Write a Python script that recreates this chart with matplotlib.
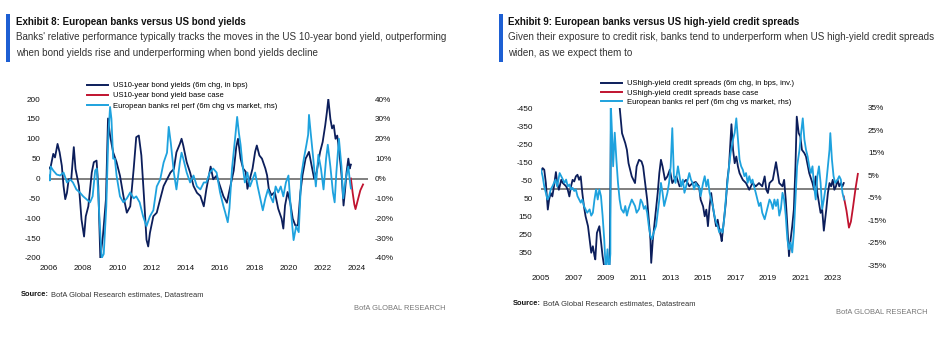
import matplotlib
matplotlib.use("Agg")
import matplotlib.pyplot as plt
from matplotlib.patches import Rectangle
from matplotlib.lines import Line2D
import matplotlib.font_manager as fm

# ------------------------------------------------------------------ #
# Exhibit 8 data (x in decimal years)
# ------------------------------------------------------------------ #
us10y_t = [2006.00, 2006.10, 2006.25, 2006.35, 2006.50, 2006.62, 2006.75, 2006.85, 2006.95, 2007.05,
           2007.15, 2007.30, 2007.45, 2007.55, 2007.75, 2007.90, 2008.05, 2008.15, 2008.30, 2008.50,
           2008.62, 2008.78, 2008.88, 2009.00, 2009.15, 2009.33, 2009.45, 2009.57, 2009.75, 2009.95,
           2010.15, 2010.35, 2010.55, 2010.75, 2010.95, 2011.10, 2011.25, 2011.40, 2011.55, 2011.70,
           2011.80, 2011.90, 2012.10, 2012.30, 2012.50, 2012.70, 2012.90, 2013.10, 2013.30, 2013.45,
           2013.65, 2013.75, 2013.85, 2014.05, 2014.25, 2014.45, 2014.65, 2014.85, 2015.05, 2015.20,
           2015.45, 2015.60, 2015.80, 2016.00, 2016.20, 2016.40, 2016.60, 2016.80, 2016.95, 2017.05,
           2017.20, 2017.35, 2017.50, 2017.60, 2017.70, 2017.90, 2018.05, 2018.15, 2018.30, 2018.45,
           2018.65, 2018.75, 2018.85, 2019.00, 2019.20, 2019.40, 2019.60, 2019.70, 2019.80, 2019.95,
           2020.10, 2020.25, 2020.40, 2020.55, 2020.70, 2020.82, 2021.00, 2021.10, 2021.20, 2021.35,
           2021.50, 2021.65, 2021.85, 2022.00, 2022.15, 2022.25, 2022.33, 2022.45, 2022.55, 2022.65,
           2022.75, 2022.85, 2022.95, 2023.05, 2023.12, 2023.22, 2023.30, 2023.40, 2023.50, 2023.58,
           2023.65]
us10y_v = [25, 30, 62, 53, 87, 66, 32, -19, -52, -36,
           -2, -2, 79, 24, -19, -103, -146, -95, -70, 15,
           41, 45, -19, -200, -146, -52, 151, 108, 66, 41,
           7, -44, -86, -70, 24, 104, 108, 58, -44, -154,
           -171, -137, -95, -86, -52, -19, -2, 15, 24, 66,
           87, 100, 83, 41, 15, -19, -36, -44, -70, -27,
           30, -2, 7, -19, -45, -61, -20, 20, 80, 100,
           50, 25, 17, -26, -8, 25, 67, 83, 58, 50,
           25, 8, -26, -42, -34, -76, -101, -126, -68, -34,
           -60, -101, -118, -118, -34, 8, 50, 58, 67, 33,
           0, 17, 67, 92, 134, 168, 200, 150, 126, 134,
           100, 108, 74, 33, 0, -68, -34, 17, 50, 25,
           35]

us10y_base_t = [2023.65, 2023.75, 2023.85, 2023.92, 2024.05, 2024.20, 2024.36]
us10y_base_v = [0, -35, -65, -77, -55, -30, -15]

eu_banks8_t = [2006.00, 2006.05, 2006.10, 2006.25, 2006.45, 2006.65, 2006.85, 2007.05, 2007.25, 2007.40,
               2007.60, 2007.80, 2008.00, 2008.20, 2008.40, 2008.55, 2008.70, 2008.80, 2008.95, 2009.08,
               2009.20, 2009.35, 2009.47, 2009.57, 2009.65, 2009.75, 2009.85, 2009.95, 2010.15, 2010.35,
               2010.55, 2010.75, 2010.95, 2011.10, 2011.30, 2011.50, 2011.70, 2011.90, 2012.10, 2012.30,
               2012.50, 2012.70, 2012.90, 2013.00, 2013.12, 2013.30, 2013.45, 2013.65, 2013.75, 2013.85,
               2014.05, 2014.25, 2014.45, 2014.65, 2014.85, 2015.05, 2015.20, 2015.40, 2015.60, 2015.80,
               2016.00, 2016.20, 2016.30, 2016.45, 2016.55, 2016.70, 2016.90, 2017.00, 2017.10, 2017.20,
               2017.30, 2017.45, 2017.60, 2017.75, 2017.90, 2018.05, 2018.20, 2018.35, 2018.50, 2018.65,
               2018.80, 2018.95, 2019.10, 2019.25, 2019.40, 2019.55, 2019.70, 2019.85, 2020.00, 2020.15,
               2020.30, 2020.45, 2020.60, 2020.75, 2020.90, 2021.05, 2021.15, 2021.20, 2021.30, 2021.45,
               2021.60, 2021.75, 2021.90, 2022.05, 2022.20, 2022.30, 2022.45, 2022.60, 2022.70, 2022.80,
               2022.95, 2023.10, 2023.20, 2023.35, 2023.50, 2023.60, 2023.65]
eu_banks8_v = [1.4, -1, 6, 4, 2, 1.5, 3, -2, -0.5, -2,
               -5.5, -7, -9, -10.5, -12, -9, 4, 5, -20, -40,
               -38, -14, 22, 36, 30, 10, 10, 1.5, -9, -12,
               -10, -7, -10, -9, -12, -19, -24, -19, -16, -4,
               -0.5, 8, 13, 26, 18, 3, -5.5, 8, 13, 10,
               3, -2, 1.5, -4, -5.5, -2, -2, 3, 5, 3,
               -7, -14, -17, -22, -15, 5, 22, 31, 23, 17,
               8, -2, 3, -4, -0.5, 3, -4, -10, -16, -10,
               -5.5, -9, -12, -4, -7, -4, -9, -2, 1.5, -17,
               -31, -24, -27, 1.5, 10, 17, 22, 32, 23, 10,
               -4, 12, 5, -5.5, 10, 17, 6, -7, -12, 3,
               20, 6, -10, 0, 6, -2, -5]

# ------------------------------------------------------------------ #
# Exhibit 9 data
# ------------------------------------------------------------------ #
hy_t = [2005.00, 2005.10, 2005.20, 2005.30, 2005.42, 2005.50, 2005.60, 2005.70, 2005.80, 2005.92,
        2006.00, 2006.10, 2006.25, 2006.35, 2006.55, 2006.65, 2006.75, 2006.85, 2006.95, 2007.05,
        2007.15, 2007.25, 2007.35, 2007.45, 2007.55, 2007.65, 2007.75, 2007.90, 2008.00, 2008.10,
        2008.20, 2008.30, 2008.35, 2008.45, 2008.60, 2008.80, 2008.90, 2009.00, 2009.15, 2009.25,
        2009.35, 2009.55, 2009.75, 2009.85, 2010.00, 2010.20, 2010.30, 2010.40, 2010.60, 2010.80,
        2010.90, 2011.05, 2011.20, 2011.30, 2011.45, 2011.55, 2011.65, 2011.75, 2011.80, 2011.90,
        2012.05, 2012.20, 2012.30, 2012.40, 2012.50, 2012.65, 2012.80, 2012.95, 2013.10, 2013.35,
        2013.55, 2013.75, 2013.95, 2014.15, 2014.35, 2014.55, 2014.75, 2014.85, 2015.00, 2015.10,
        2015.20, 2015.30, 2015.40, 2015.50, 2015.60, 2015.70, 2015.80, 2015.90, 2016.00, 2016.10,
        2016.15, 2016.25, 2016.40, 2016.50, 2016.60, 2016.75, 2016.85, 2016.95, 2017.05, 2017.15,
        2017.25, 2017.45, 2017.65, 2017.85, 2018.05, 2018.25, 2018.45, 2018.65, 2018.80, 2018.90,
        2019.00, 2019.10, 2019.30, 2019.50, 2019.70, 2019.90, 2020.00, 2020.10, 2020.20, 2020.30,
        2020.40, 2020.50, 2020.60, 2020.70, 2020.78, 2020.90, 2021.00, 2021.10, 2021.25, 2021.35,
        2021.55, 2021.75, 2021.85, 2021.95, 2022.05, 2022.15, 2022.25, 2022.35, 2022.45, 2022.60,
        2022.70, 2022.80, 2022.90, 2023.00, 2023.10, 2023.20, 2023.30, 2023.40, 2023.50, 2023.60,
        2023.68]
hy_v = [-98, -117, -108, -34, 113, 58, 21, 40, -16, -95,
        -34, 3, -52, -34, -16, 3, 40, -16, -52, -43,
        -71, -80, -52, -71, 21, 95, 150, 205, 279, 352,
        316, 371, 389, 242, 205, 371, 430, 800, 700, 300,
        -700, -800, -700, -457, -310, -255, -218, -144, -71, -34,
        -126, -163, -154, -126, -16, 58, 169, 279, 408, 279,
        150, 21, -89, -163, -126, -52, -71, -108, -34, -71,
        -16, -34, -52, -16, -34, -40, -16, 58, 95, 150,
        113, 205, 95, 21, 95, 150, 205, 169, 224, 261,
        288, 205, 76, -52, -126, -360, -218, -144, -181, -126,
        -89, -52, -34, 3, -34, -16, -34, -16, -71, 3,
        21, -34, -52, -150, -34, -16, -52, 58, 205, 371,
        279, 205, 113, -126, -402, -310, -292, -218, -200, -181,
        -89, -34, 3, -71, 21, 76, 131, 113, 230, 113,
        21, -34, -16, -52, 3, -16, -52, -16, -34, -16,
        -34]

hy_base_t = [2023.68, 2023.85, 2024.00, 2024.12, 2024.25, 2024.40, 2024.55]
hy_base_v = [40, 120, 213, 180, 100, 0, -85]

eu_banks9_t = [2005.00, 2005.10, 2005.20, 2005.30, 2005.40, 2005.50, 2005.60, 2005.70, 2005.80, 2005.90,
               2006.00, 2006.15, 2006.25, 2006.35, 2006.45, 2006.55, 2006.65, 2006.75, 2006.85, 2006.95,
               2007.05, 2007.15, 2007.25, 2007.35, 2007.45, 2007.55, 2007.65, 2007.75, 2007.85, 2008.00,
               2008.10, 2008.20, 2008.30, 2008.40, 2008.50, 2008.60, 2008.70, 2008.80, 2008.90, 2009.00,
               2009.10, 2009.20, 2009.28, 2009.30, 2009.38, 2009.45, 2009.55, 2009.65, 2009.75, 2009.85,
               2009.95, 2010.10, 2010.20, 2010.30, 2010.40, 2010.60, 2010.80, 2010.90, 2011.05, 2011.15,
               2011.25, 2011.35, 2011.45, 2011.55, 2011.65, 2011.75, 2011.85, 2011.95, 2012.10, 2012.20,
               2012.30, 2012.40, 2012.50, 2012.60, 2012.70, 2012.80, 2012.90, 2013.00, 2013.10, 2013.15,
               2013.20, 2013.30, 2013.45, 2013.55, 2013.65, 2013.75, 2013.85, 2013.95, 2014.05, 2014.15,
               2014.25, 2014.35, 2014.45, 2014.55, 2014.65, 2014.75, 2014.85, 2015.00, 2015.10, 2015.20,
               2015.30, 2015.40, 2015.50, 2015.60, 2015.70, 2015.80, 2015.90, 2016.00, 2016.10, 2016.20,
               2016.30, 2016.40, 2016.50, 2016.60, 2016.70, 2016.85, 2016.95, 2017.05, 2017.15, 2017.25,
               2017.35, 2017.45, 2017.55, 2017.65, 2017.75, 2017.85, 2017.95, 2018.05, 2018.15, 2018.25,
               2018.35, 2018.45, 2018.55, 2018.65, 2018.80, 2018.90, 2019.00, 2019.10, 2019.20, 2019.30,
               2019.40, 2019.50, 2019.60, 2019.70, 2019.80, 2019.90, 2020.00, 2020.10, 2020.20, 2020.30,
               2020.40, 2020.50, 2020.60, 2020.70, 2020.80, 2020.95, 2021.05, 2021.15, 2021.25, 2021.35,
               2021.45, 2021.55, 2021.65, 2021.75, 2021.85, 2021.95, 2022.05, 2022.15, 2022.25, 2022.35,
               2022.45, 2022.60, 2022.70, 2022.80, 2022.85, 2022.95, 2023.05, 2023.15, 2023.30, 2023.40,
               2023.50, 2023.60, 2023.70]
eu_banks9_v = [7.5, 4.6, 0, -2.8, -5.8, -4.3, -1.3, 0, 1.6, 3.1,
               0, 6, 4.6, 3.1, 1.6, 3.1, 0, 0.9, -1.3, -0.6,
               -2, -1.3, -4.3, -5.8, -7.2, -5.8, -8.7, -10.2, -11.7, -10.2,
               -13, -11.7, -5.8, -1.3, -5.8, -1.3, -4.3, -13, -23.5, -38,
               -28, -38, -30, 38, 24, 9, 24, 12, 1.6, -5.8,
               -10, -11.7, -8.7, -13, -10, -5.8, -8.7, -11.7, -10, -5.8,
               -7.2, -10, -8.7, -11.7, -17.6, -22, -23.5, -20.5, -17.6, -11.7,
               -5.8, 1.6, -2.8, -8.7, -5.8, -2.8, 1.6, 9, 26, 15,
               4.6, 1.6, 9, 4.6, 0, 3.1, -2.8, 0, 3.1, 6,
               3.1, 1.6, -1.3, 1.6, 0, 0, -4.3, 1.6, 4.6, 0,
               3.1, -2.8, -5.8, -8.7, -13, -16, -17.6, -20.5, -19, -20.5,
               -14.6, -5.8, 1.6, 9, 15, 21, 24, 30.4, 21, 12,
               9, 7.5, 4.6, 6, 1.6, 4.6, 1.6, 3.1, 0, -2.8,
               -5.8, -8.7, -7.2, -11.7, -14.6, -11.7, -8.7, -5.8, -7.2, -10,
               -5.8, -8.7, -5.8, -13, -10, -2.8, -5.8, -13, -23.5, -28,
               -25, -29.4, -20.5, -5.8, 9, 16.4, 24, 30.4, 21, 16.4,
               13.4, 9, 6, 9, 0, -5.8, 4.6, 9, 1.6, -10,
               -5.8, 1.6, 9, 16.4, 23.8, 12, 4.6, 1.6, 3.1, 4.6,
               3.1, -2.8, -5.8]

# axis labels
left_years8 = [2006, 2008, 2010, 2012, 2014, 2016, 2018, 2020, 2022, 2024]
left_ticks8 = [200, 150, 100, 50, 0, -50, -100, -150, -200]
right_ticks8 = [40, 30, 20, 10, 0, -10, -20, -30, -40]
left_years9 = [2005, 2007, 2009, 2011, 2013, 2015, 2017, 2019, 2021, 2023]
left_ticks9 = [-450, -350, -250, -150, -50, 50, 150, 250, 350]
right_ticks9 = [35, 25, 15, 5, -5, -15, -25, -35]

NAVY = '#0c1e5b'
LIGHT = '#1ea2de'
RED = '#c0132f'
ZERO = '#7f7f7f'
BAR = '#1d5fd3'

W, H = 952, 354

narrow = 'Liberation Sans Narrow'
names = {f.name for f in fm.fontManager.ttflist}
if narrow not in names:
    narrow = 'Liberation Sans'

plt.rcParams['font.family'] = ['Liberation Sans', 'DejaVu Sans']

fig = plt.figure(figsize=(W / 100, H / 100), dpi=100)
renderer = fig.canvas.get_renderer()


def px_axes(x0, y0, x1, y1):
    return fig.add_axes([x0 / W, 1 - y1 / H, (x1 - x0) / W, (y1 - y0) / H])


def ftext(x, y, s, **kw):
    kw.setdefault('va', 'center')
    return fig.text(x / W, 1 - y / H, s, **kw)


def style(ax, pad_x, pad_y):
    for sp in ax.spines.values():
        sp.set_visible(False)
    ax.tick_params(length=0, labelsize=5.9, colors='#111111')
    ax.tick_params(axis='x', pad=pad_x)
    ax.tick_params(axis='y', pad=pad_y)
    ax.patch.set_visible(False)


def header(x_bar, x_txt, title, sub1, sub2):
    fig.patches.append(Rectangle((x_bar / W, 1 - 62 / H), 4 / W, 48 / H,
                                 transform=fig.transFigure, color=BAR, lw=0))
    ftext(x_txt, 22, title, fontsize=7.0, fontweight='bold', family=narrow, color='#111111')
    ftext(x_txt, 37.5, sub1, fontsize=7.1, family=narrow, color='#333333')
    ftext(x_txt, 52.5, sub2, fontsize=7.1, family=narrow, color='#333333')


def footer(x_src, y_src, x_right, y_right):
    # y_src is the baseline of the source line
    t = ftext(x_src, y_src, 'Source:', fontsize=5.4, fontweight='bold', family=narrow,
              color='#111111', va='baseline')
    w = t.get_window_extent(renderer).width
    ftext(x_src + w + 2, y_src, 'BofA Global Research estimates, Datastream', fontsize=5.4,
          family=narrow, color='#333333', va='baseline')
    ftext(x_right, y_right, 'BofA GLOBAL RESEARCH', fontsize=5.4, family=narrow,
          color='#777777', ha='right')


def legend(x, y, labels, spacing):
    handles = [Line2D([], [], color=c, lw=1.4) for c in (NAVY, RED, LIGHT)]
    fig.legend(handles, labels, loc='upper left', bbox_to_anchor=(x / W, 1 - y / H),
               frameon=False, fontsize=5.5, borderpad=0, borderaxespad=0,
               handlelength=2.8, handletextpad=0.6, labelspacing=spacing)


# ------------------------------------------------------------------ #
# Exhibit 8
# ------------------------------------------------------------------ #
header(6, 16, 'Exhibit 8: European banks versus US bond yields',
       "Banks' relative performance typically tracks the moves in the US 10-year bond yield, outperforming",
       'when bond yields rise and underperforming when bond yields decline')

ax = px_axes(49, 99, 368, 258)
ax.axhline(0, color=ZERO, lw=1.4, zorder=1)
ax.plot(us10y_t, us10y_v, color=NAVY, lw=1.3, zorder=2)
ax.plot(us10y_base_t, us10y_base_v, color=RED, lw=1.3, zorder=3)
ax.set_xlim(2006.0, 2024.65)
ax.set_ylim(-200, 200)
ax.set_xticks(left_years8)
ax.set_xticklabels([str(y) for y in left_years8])
ax.set_yticks(left_ticks8)
ax.set_yticklabels([str(v) for v in left_ticks8])
style(ax, 5, 6)

ax2 = ax.twinx()
ax2.plot(eu_banks8_t, eu_banks8_v, color=LIGHT, lw=1.3, zorder=2)
ax2.set_ylim(-40, 40)
ax2.set_yticks(right_ticks8)
ax2.set_yticklabels([f'{v}%' for v in right_ticks8])
style(ax2, 5, 5)

legend(87, 82, ['US10-year bond yields (6m chg, in bps)', 'US10-year bond yield base case',
                'European banks rel perf (6m chg vs market, rhs)'], 0.36)

footer(21, 296, 445, 309)

# ------------------------------------------------------------------ #
# Exhibit 9
# ------------------------------------------------------------------ #
header(499, 508, 'Exhibit 9: European banks versus US high-yield credit spreads',
       'Given their exposure to credit risk, banks tend to underperform when US high-yield credit spreads',
       'widen, as we expect them to')

bx = px_axes(541, 108, 859, 265)
bx.axhline(0, color=ZERO, lw=1.4, zorder=1)
bx.plot(hy_t, hy_v, color=NAVY, lw=1.3, zorder=2)
bx.plot(hy_base_t, hy_base_v, color=RED, lw=1.3, zorder=3)
bx.set_xlim(2005.0, 2024.62)
bx.set_ylim(420, -450)
bx.set_xticks(left_years9)
bx.set_xticklabels([str(y) for y in left_years9])
bx.set_yticks(left_ticks9)
bx.set_yticklabels([str(v) for v in left_ticks9])
style(bx, 7, 6)

bx2 = bx.twinx()
bx2.plot(eu_banks9_t, eu_banks9_v, color=LIGHT, lw=1.3, zorder=2)
bx2.set_ylim(-35, 35)
bx2.set_yticks(right_ticks9)
bx2.set_yticklabels([f'{v}%' for v in right_ticks9])
style(bx2, 7, 6.5)

legend(601, 80, ['UShigh-yield credit spreads (6m chg, in bps, inv.)', 'UShigh-yield credit spreads base case',
                 'European banks rel perf (6m chg vs market, rhs)'], 0.26)

footer(513, 305, 928, 312)

fig.savefig('out.png', dpi=100)
